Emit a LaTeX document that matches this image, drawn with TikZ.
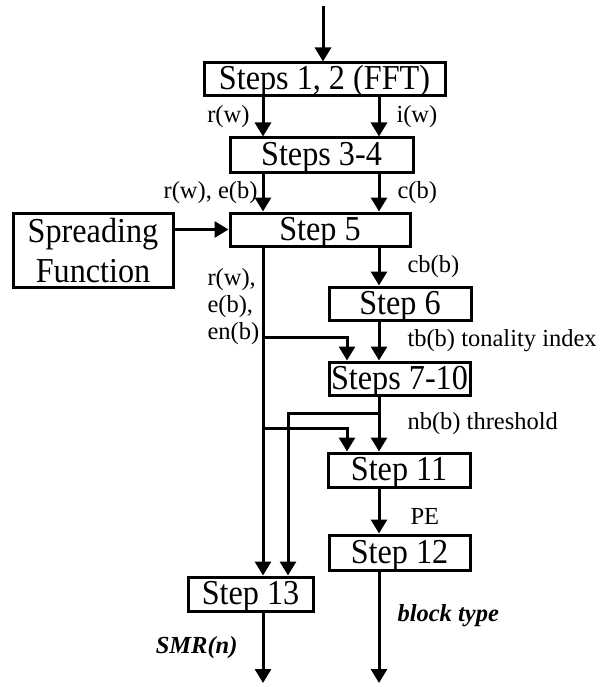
\documentclass[tikz,border=0pt]{standalone}
\usepackage{fontspec}
\setmainfont{Liberation Serif}
\newfontfamily\boxfont[FakeStretch=0.92]{Liberation Serif}
\usetikzlibrary{arrows.meta}

\begin{document}
\begin{tikzpicture}[x=1pt, y=-1pt, line width=3pt, line join=miter, >={Triangle[length=14pt,width=16pt]},
  procbox/.style={draw, inner sep=0pt, minimum height=33pt, font=\boxfont\fontsize{35}{40}\selectfont},
  stepbox/.style={procbox, text height=24pt, text depth=3pt},
  lbl/.style={inner sep=0pt, font=\fontsize{24.5}{28}\selectfont},
  outlbl/.style={lbl, font=\fontsize{24.5}{28}\selectfont\bfseries\itshape}]
\useasboundingbox (0,0) rectangle (610,687);
\path
(263,0) coordinate (L)
(288,0) coordinate (L2)
(347,0) coordinate (M)
(379,0) coordinate (R)
(323,6) coordinate (top)
(263,683) coordinate (smr)
(379,683) coordinate (blk);
% processing steps
\node[stepbox, minimum width=241pt] (fft) at (324.5,79.5) {Steps 1, 2 (FFT)};
\node[stepbox, minimum width=183pt, minimum height=34pt] (s34) at (321.5,155) {Steps 3-4};
\node[stepbox, minimum width=180pt] (s5) at (320,229.5) {Step 5};
\node[procbox, minimum width=160pt, minimum height=74pt, text depth=0pt, align=center] (sf) at (93,250) {Spreading\\Function};
\node[stepbox, minimum width=142pt] (s6) at (400,303.5) {Step 6};
\node[stepbox, minimum width=141pt] (s710) at (399.5,378.5) {Steps 7-10};
\node[stepbox, minimum width=142pt, minimum height=34pt] (s11) at (399,470) {Step 11};
\node[stepbox, minimum width=141pt, minimum height=35pt] (s12) at (399.5,552.5) {Step 12};
\node[stepbox, minimum width=125pt, minimum height=34pt] (s13) at (250.5,594) {Step 13};
% data flow
\draw[->] (top) -- (top |- fft.north);
\draw[->] (fft.south -| L) -- (s34.north -| L) node[lbl, midway, left=12pt] {r(w)};
\draw[->] (fft.south -| R) -- (s34.north -| R) node[lbl, midway, right=16pt] {i(w)};
\draw[->] (s34.south -| L) -- (s5.north -| L) node[lbl, midway, left=4pt] {r(w), e(b)};
\draw[->] (s34.south -| R) -- (s5.north -| R) node[lbl, midway, right=17pt] {c(b)};
\draw[->] (sf.east |- s5.west) -- (s5.west);
\draw[->] (s5.south -| R) -- (s6.north -| R) node[lbl, midway, right=27pt] {cb(b)};
\draw[->] (s6.south -| R) -- (s710.north -| R) node[lbl, midway, right=27pt] {tb(b) tonality index};
\draw[->] (s710.south -| R) -- (s11.north -| R) node[lbl, midway, right=27pt] {nb(b) threshold};
\draw[->] (s11.south -| R) -- (s12.north -| R) node[lbl, pos=.62, right=30pt] {PE};
\draw[->] (s12.south -| R) -- (blk) node[outlbl, pos=.4, right=17pt] {block type};
\draw[->] (s5.south -| L) -- (s13.north -| L);
\draw[->] (L |- 0,337) -| (s710.north -| M);
\draw[->] (L |- 0,428) -| (s11.north -| M);
\draw[->] (R |- 0,413) -| (s13.north -| L2);
\draw[->] (s13.south -| L) -- (smr) node[outlbl, midway, left=24pt] {SMR(n)};
\foreach \t [count=\i] in {{r(w),}, {e(b),}, en(b)}
  \node[lbl, anchor=west] (side\i) at (206,253+27*\i) {\t};
\end{tikzpicture}
\end{document}
